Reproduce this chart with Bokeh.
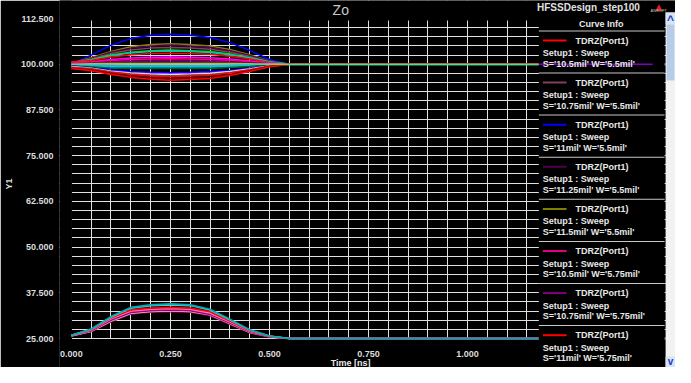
from bokeh.plotting import figure
from bokeh.models import Range1d, FixedTicker, PrintfTickFormatter, Label
from bokeh.embed import file_html
from bokeh.resources import INLINE

# ---------------- data ----------------
time_ns = [0, 0.05, 0.1, 0.15, 0.2, 0.25, 0.3, 0.35, 0.4, 0.45, 0.5, 0.55, 1.5]

# upper bundle (around 100 ohm)
u01 = [100.0, 102.5, 105.2, 107.0, 107.9, 108.2, 107.9, 107.3, 105.9, 103.8, 101.3, 100.0, 100.0]
u02 = [100.3, 101.8, 103.5, 104.8, 105.4, 105.6, 105.4, 105.0, 104.0, 102.6, 100.9, 100.0, 100.0]
u03 = [100.2, 101.6, 103.3, 104.4, 105.0, 105.2, 105.0, 104.6, 103.7, 102.4, 100.8, 100.0, 100.0]
u04 = [100.4, 101.4, 102.9, 103.9, 104.4, 104.6, 104.4, 104.1, 103.3, 102.1, 100.7, 100.0, 100.0]
u05 = [100.5, 101.2, 102.5, 103.3, 103.7, 103.9, 103.7, 103.5, 102.8, 101.8, 100.6, 100.0, 100.0]
u06 = [100.3, 101.1, 102.3, 103.1, 103.5, 103.6, 103.5, 103.2, 102.6, 101.7, 100.6, 100.0, 100.0]
u07 = [100.6, 101.0, 102.0, 102.6, 102.9, 103.0, 102.9, 102.7, 102.2, 101.4, 100.5, 100.0, 100.0]
u08 = [100.1, 100.6, 101.3, 101.7, 101.9, 102.0, 101.9, 101.8, 101.4, 100.9, 100.3, 100.0, 100.0]
u09 = [100.5, 100.6, 101.0, 101.3, 101.4, 101.5, 101.4, 101.3, 101.1, 100.7, 100.2, 100.0, 100.0]
u10 = [99.9, 100.3, 100.6, 100.8, 100.9, 100.9, 100.9, 100.8, 100.6, 100.4, 100.1, 100.0, 100.0]
u11 = [100.0, 100.1, 100.3, 100.3, 100.4, 100.4, 100.4, 100.4, 100.3, 100.2, 100.1, 100.0, 100.0]
u12 = [99.6, 99.9, 99.8, 99.7, 99.7, 99.7, 99.7, 99.7, 99.8, 99.9, 100.0, 100.0, 100.0]
u13 = [99.8, 99.6, 99.4, 99.4, 99.4, 99.4, 99.4, 99.4, 99.5, 99.7, 99.9, 100.0, 100.0]
u14 = [99.5, 99.3, 98.9, 98.8, 98.8, 98.8, 98.8, 98.8, 99.1, 99.4, 99.8, 100.0, 100.0]
u15 = [99.6, 99.0, 98.4, 98.0, 97.8, 97.7, 97.8, 98.0, 98.3, 98.9, 99.6, 100.0, 100.0]
u16 = [99.3, 98.9, 98.2, 97.7, 97.5, 97.4, 97.5, 97.7, 98.1, 98.8, 99.6, 100.0, 100.0]
u17 = [99.4, 98.9, 98.1, 97.6, 97.3, 97.2, 97.3, 97.5, 98.0, 98.7, 99.5, 100.0, 100.0]
u18 = [99.2, 98.8, 97.9, 97.3, 97.0, 96.8, 97.0, 97.2, 97.7, 98.5, 99.5, 100.0, 100.0]
u19 = [99.0, 98.6, 97.8, 97.2, 96.8, 96.6, 96.8, 97.0, 97.6, 98.4, 99.4, 100.0, 100.0]
u20 = [98.9, 98.4, 97.5, 96.8, 96.3, 96.1, 96.3, 96.6, 97.2, 98.2, 99.4, 100.0, 100.0]
u21 = [98.8, 98.2, 97.2, 96.4, 95.9, 95.6, 95.8, 96.1, 96.9, 98.0, 99.3, 100.0, 100.0]
u22 = [100.0, 100.1, 100.2, 100.2, 100.2, 100.2, 100.2, 100.2, 100.2, 100.1, 100.0, 100.0, 100.0]

upper_series = [u01, u02, u03, u04, u05, u06, u07, u08, u09, u10, u11,
                u12, u13, u14, u15, u16, u17, u18, u19, u20, u21, u22]
upper_colors = ["#0000ff", "#808000", "#500050", "#804060", "#00e000", "#00c0c0",
                "#ff0000", "#ff00ff", "#ff0080", "#800080", "#800000", "#909090",
                "#00c8d8", "#006040", "#0000ff", "#8000ff", "#d8d8d8", "#606060",
                "#ff0000", "#700000", "#ff0000", "#88cc66"]

# lower bundle (around 25..35 ohm)
l01 = [25.9, 27.6, 31.0, 33.5, 34.2, 34.5, 34.2, 33.0, 30.3, 27.4, 25.7, 25.0, 25.0]
l02 = [25.9, 27.5, 30.8, 33.3, 34.0, 34.2, 34.0, 32.8, 30.1, 27.3, 25.7, 25.0, 25.0]
l03 = [25.9, 27.4, 30.6, 32.8, 33.3, 33.5, 33.3, 32.3, 29.8, 27.1, 25.6, 25.0, 25.0]
l04 = [25.8, 27.3, 30.4, 32.5, 33.0, 33.2, 33.0, 32.0, 29.6, 27.0, 25.6, 25.0, 25.0]
l05 = [25.8, 27.2, 30.2, 32.3, 32.8, 33.0, 32.8, 31.8, 29.4, 26.9, 25.5, 25.0, 25.0]
l06 = [25.8, 27.1, 30.0, 32.1, 32.6, 32.8, 32.6, 31.6, 29.2, 26.8, 25.5, 25.0, 25.0]
l07 = [25.7, 27.0, 29.8, 31.9, 32.4, 32.6, 32.4, 31.5, 29.1, 26.7, 25.5, 25.0, 25.0]
l08 = [25.7, 26.9, 29.6, 31.7, 32.2, 32.4, 32.2, 31.3, 28.9, 26.6, 25.4, 25.0, 25.0]
lower_series = [l08, l07, l06, l05, l04, l03, l02, l01]
lower_colors = ["#a00040", "#e0c8d8", "#800080", "#c00080", "#ff80c0", "#ff0000", "#40d0d0", "#00a8b8"]

x_major_ticks = [0.0, 0.25, 0.5, 0.75, 1.0]
y_major_ticks = [25.0, 37.5, 50.0, 62.5, 75.0, 87.5, 100.0, 112.5]

legend_trace = "TDRZ(Port1)"
legend_setup = "Setup1 : Sweep"
legend_sweeps = ["S='10.5mil' W='5.5mil'", "S='10.75mil' W='5.5mil'", "S='11mil' W='5.5mil'",
                 "S='11.25mil' W='5.5mil'", "S='11.5mil' W='5.5mil'", "S='10.5mil' W='5.75mil'",
                 "S='10.75mil' W='5.75mil'", "S='11mil' W='5.75mil'"]
legend_colors = ["#ff0000", "#804060", "#0000ff", "#500050", "#808000", "#e00080", "#800080", "#ff0000"]

title_text = "Zo"
design_text = "HFSSDesign_step100"
x_label = "Time [ns]"
y_label = "Y1"

# ---------------- geometry (page pixels -> data) ----------------
PX_NS = 400.0            # pixels per ns
PX_OHM = 320.0 / 87.5    # pixels per ohm
PX0, PY0 = 73, 346       # page pixel of (0 ns, 25 ohm)


def tx(px):
    return (px - PX0) / PX_NS


def vy(py):
    return 25.0 + (PY0 - py) / PX_OHM


W, H = 675, 367
LEFT = 53
x_rng = Range1d(tx(8 + LEFT), tx(8 + W))
y_rng = Range1d(vy(8 + H), vy(8))

p = figure(width=W, height=H, x_range=x_rng, y_range=y_rng,
           output_backend="svg", toolbar_location=None, title=None,
           min_border_left=LEFT, min_border_right=0, min_border_top=0, min_border_bottom=0,
           background_fill_color="black", border_fill_color="black", outline_line_color=None)

p.xaxis.ticker = FixedTicker(ticks=x_major_ticks, minor_ticks=[0.05 * i for i in range(1, 30)])
p.yaxis.ticker = FixedTicker(ticks=y_major_ticks, minor_ticks=[25 + 2.5 * i for i in range(1, 35)])
p.xaxis.formatter = PrintfTickFormatter(format="%.3f")
p.yaxis.formatter = PrintfTickFormatter(format="%.3f")
p.xaxis.fixed_location = 25.0

for ax in (p.xaxis, p.yaxis):
    ax.axis_line_color = None
    ax.major_tick_line_color = None
    ax.minor_tick_line_color = None
    ax.major_tick_out = 0
    ax.major_tick_in = 0
    ax.major_label_text_color = "#dcdcdc"
    ax.major_label_text_font = "Liberation Sans"
    ax.major_label_text_font_size = "9px"
    ax.major_label_text_font_style = "bold"
    ax.axis_label_text_color = "#dcdcdc"
    ax.axis_label_text_font = "Liberation Sans"
    ax.axis_label_text_font_size = "9px"
    ax.axis_label_text_font_style = "bold"
p.xaxis.major_label_standoff = 8
p.yaxis.major_label_standoff = 2
p.yaxis.axis_label = y_label
p.yaxis.axis_label_standoff = 4

for g in (p.xgrid, p.ygrid):
    g.grid_line_color = "#e0e0e0"
    g.grid_line_width = 1
    g.minor_grid_line_color = "#e0e0e0"
    g.minor_grid_line_width = 1

# black bands hiding grid outside the plotting area
p.quad(left=x_rng.start, right=x_rng.end, bottom=vy(28), top=y_rng.end, fill_color="black", line_color=None)
p.quad(left=x_rng.start, right=x_rng.end, bottom=y_rng.start, top=vy(346.5), fill_color="black", line_color=None)
p.quad(left=x_rng.start, right=tx(73.6), bottom=y_rng.start, top=y_rng.end, fill_color="black", line_color=None)

for vals, c in zip(lower_series, lower_colors):
    p.line(time_ns, vals, line_color=c, line_width=1.6)
for vals, c in zip(upper_series, upper_colors):
    lw = 2.5 if c == "#00c8d8" else 1.5
    p.line(time_ns, vals, line_color=c, line_width=lw)


def box(x0, x1, y0, y1, color):
    p.quad(left=tx(x0), right=tx(x1), top=vy(y0), bottom=vy(y1), fill_color=color, line_color=None)


def lab(px, py, text, size="9px", color="#e8e8e8", align="left", style="bold",
        font="Liberation Sans", baseline="middle"):
    p.add_layout(Label(x=tx(px), y=vy(py), text=text, text_font=font, text_font_size=size,
                       text_font_style=style, text_color=color, text_align=align,
                       text_baseline=baseline))


# ---------------- legend panel (Curve Info) ----------------
LL, LR = 545, 672
box(LL, LR, 22, 376, "black")
p.segment(x0=[tx(LL)], y0=[u22[-1]], x1=[tx(660)], y1=[u22[-1]], line_color="#8000c0", line_width=1.5)

lab(608, 31, "Curve Info", align="center")
box(LL, LR, 38, 39, "#c8c8c8")
for k in range(8):
    yk = 48 + 42.1 * k
    box(549, 573, yk - 1, yk + 1, legend_colors[k])
    lab(582, yk, legend_trace)
    lab(549, yk + 12.5, legend_setup)
    lab(549, yk + 23, legend_sweeps[k])
    box(LL, LR, yk + 32, yk + 33, "#c8c8c8")

# titles
lab(345, 9, title_text, size="14px", color="#c8c8c8", align="center", style="normal", baseline="top")
lab(647, 9, design_text, size="10px", color="#e0e0e0", align="right", baseline="top")
lab(666, 9, "\u25b2", size="9px", color="#e02020", align="center", style="normal",
    font="DejaVu Sans", baseline="top")
lab(666, 18, "ANSOFT", size="4px", color="#c0c0c0", align="center", style="normal")
lab(355, 370, x_label, align="center")

# scrollbar
box(673, 683, 20, 375, "#f2f2f2")
box(673, 683, 20, 32, "#d8e4f4")
box(674, 682, 32, 88, "#b8cce8")
box(673, 683, 364, 375, "#d8e4f4")
lab(678, 27, "^", size="12px", color="#1840c0", align="center")
lab(678, 369, "v", size="10px", color="#1840c0", align="center")

open("out.html", "w").write(file_html(p, INLINE))
